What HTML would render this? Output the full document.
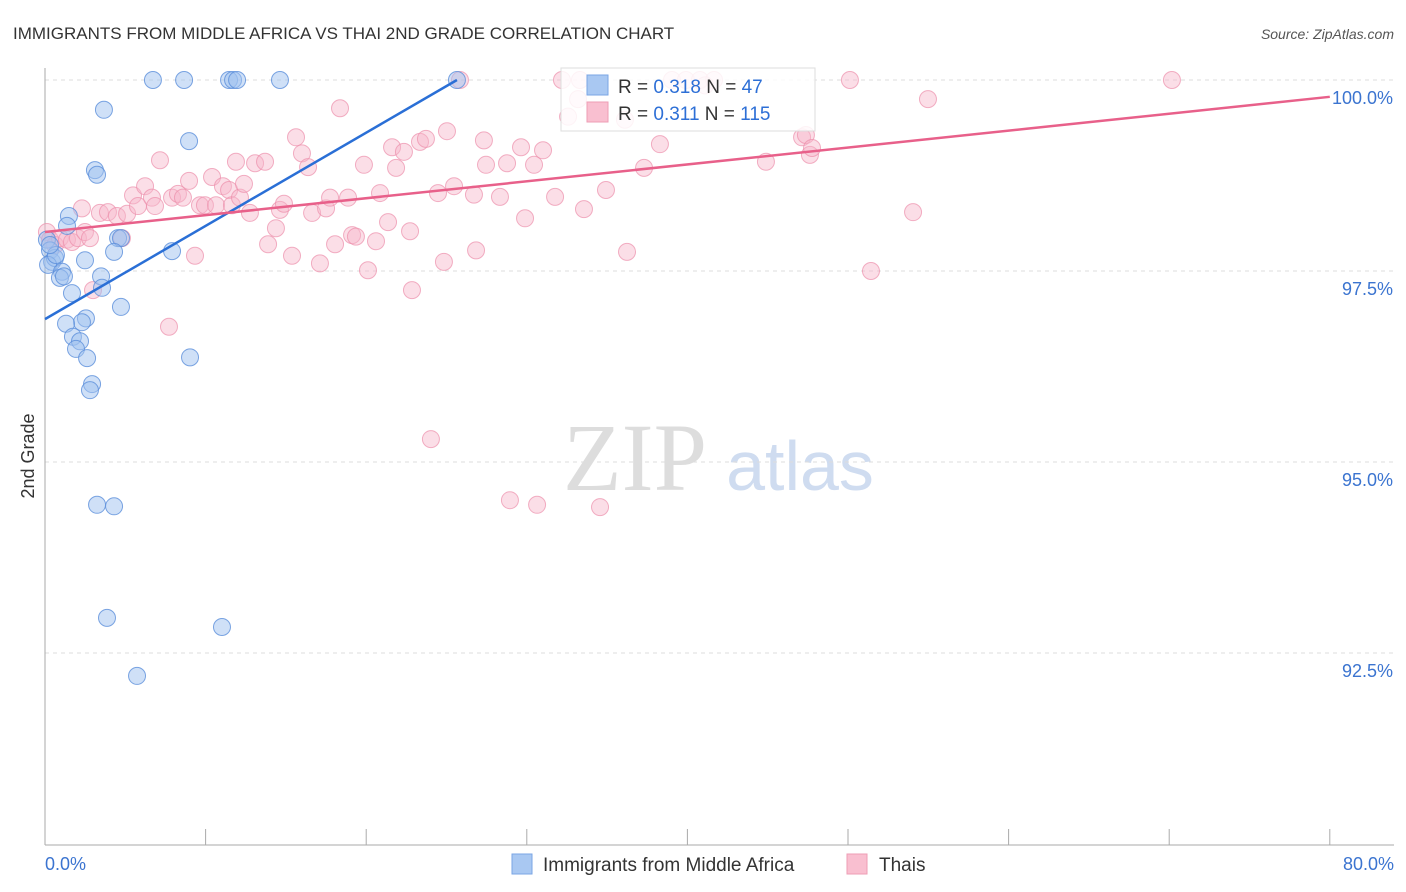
<!DOCTYPE html>
<html><head><meta charset="utf-8"><style>
body{margin:0;background:#fff;font-family:"Liberation Sans",sans-serif}
svg{display:block}
</style></head><body>
<svg id="c" width="1406" height="892" xmlns="http://www.w3.org/2000/svg">
<text x="13" y="39" font-size="17" fill="#333">IMMIGRANTS FROM MIDDLE AFRICA VS THAI 2ND GRADE CORRELATION CHART</text>
<text x="1394" y="39" font-size="14" fill="#555" font-style="italic" text-anchor="end">Source: ZipAtlas.com</text>
<text x="635" y="490" font-size="96" fill="#ddd" font-family="Liberation Serif,serif" text-anchor="middle">ZIP</text>
<text x="800" y="490" font-size="70" fill="#cfdcf0" text-anchor="middle">atlas</text>
<g id="grid"></g><g id="axes"></g><g id="pts"></g><g id="lines"></g>
<text transform="translate(34,456) rotate(-90)" font-size="18" fill="#333" text-anchor="middle">2nd Grade</text>
<g>
<rect x="561" y="68" width="254" height="63" fill="#fff" fill-opacity="0.85" stroke="#ddd"/>
<rect x="587" y="75" width="21" height="20" fill="#a9c8f2" stroke="#7aa6e4"/>
<rect x="587" y="102" width="21" height="20" fill="#f9bfd0" stroke="#ee9db5"/>
<text x="618" y="93" font-size="19" fill="#333">R = <tspan fill="#2d6fd6">0.318</tspan>   N = <tspan fill="#2d6fd6"> 47</tspan></text>
<text x="618" y="120" font-size="19" fill="#333">R = <tspan fill="#2d6fd6"> 0.311</tspan>   N = <tspan fill="#2d6fd6">115</tspan></text>
</g>
<g>
<rect x="512" y="854" width="20" height="20" fill="#a9c8f2" stroke="#7aa6e4"/>
<text x="543" y="871" font-size="19" fill="#333">Immigrants from Middle Africa</text>
<rect x="847" y="854" width="20" height="20" fill="#f9bfd0" stroke="#ee9db5"/>
<text x="879" y="871" font-size="19" fill="#333">Thais</text>
</g>
</svg>
<script>
const blueX=[6.72,8.66,11.46,11.71,11.96,14.63,25.65,3.67,8.97,3.11,3.24,1.49,1.37,0.12,4.55,4.73,4.30,7.91,2.49,0.31,0.44,0.62,0.19,1.06,0.93,1.18,3.49,3.55,1.68,4.73,2.55,2.30,1.31,1.74,2.18,1.93,2.62,9.03,2.93,2.80,3.24,4.30,3.86,11.02,5.73,0.68,0.31];
const blueY=[100,100,100,100,100,100,100,99.61,99.20,98.82,98.76,98.22,98.09,97.91,97.93,97.93,97.75,97.76,97.64,97.77,97.62,97.67,97.58,97.49,97.41,97.43,97.43,97.28,97.21,97.03,96.88,96.83,96.81,96.64,96.58,96.48,96.36,96.37,96.02,95.94,94.44,94.42,92.96,92.84,92.20,97.71,97.84];
const pinkX=[0.12,0.31,0.62,0.93,1.37,1.68,2.05,2.49,2.30,2.80,2.99,3.42,3.92,4.48,5.11,4.79,5.48,5.79,6.23,6.66,6.85,7.16,7.72,7.91,8.28,8.59,8.97,9.34,9.65,9.96,10.40,10.65,11.08,11.46,11.64,11.89,12.14,12.39,12.76,13.08,13.70,13.89,14.38,14.63,14.88,15.38,15.63,16.00,16.38,16.63,17.12,17.50,17.75,18.06,18.37,18.87,19.12,19.36,19.86,20.11,20.61,20.86,21.36,21.61,21.86,22.35,22.73,22.85,23.35,23.72,24.03,24.47,24.84,25.03,25.47,26.84,26.71,27.33,27.46,28.33,28.77,28.95,29.64,29.89,30.45,30.64,31.01,31.76,32.19,33.19,33.56,34.56,34.93,36.24,37.30,38.29,39.04,39.91,40.78,41.66,44.89,47.14,47.38,47.63,47.76,50.12,51.43,54.05,54.98,70.17,25.84,33.31,32.57,36.11,41.10];
const pinkY=[98.01,97.91,97.84,97.93,97.91,97.88,97.93,98.01,98.32,97.93,97.25,98.26,98.27,98.22,98.25,97.93,98.49,98.35,98.61,98.46,98.35,98.95,96.77,98.46,98.51,98.46,98.68,97.70,98.36,98.36,98.73,98.36,98.61,98.56,98.36,98.93,98.46,98.64,98.26,98.91,98.93,97.85,98.06,98.30,98.38,97.70,99.25,99.04,98.86,98.26,97.60,98.32,98.46,97.85,99.63,98.46,97.97,97.95,98.89,97.51,97.89,98.52,98.14,99.12,98.85,99.06,98.02,97.25,99.19,99.23,95.30,98.52,97.62,99.33,98.61,97.77,98.50,99.21,98.89,98.47,98.91,94.50,99.12,98.19,98.89,94.44,99.08,98.47,100,99.75,98.31,94.41,98.56,97.75,98.85,99.16,100,100,100,100,98.93,99.25,99.28,99.02,99.11,100,97.50,98.27,99.75,100,100,100,99.52,99.48,99.93];
const blueTrend=[0,96.87,25.65,100];
const pinkTrend=[0,98.01,80,99.78];
const yTicks=[100,97.5,95,92.5];
const yTickLabels=["100.0%","97.5%","95.0%","92.5%"];
const xTickVals=[0,10,20,30,40,50,60,70,80];
const NS="http://www.w3.org/2000/svg";
const X=v=>45+v*16.06, Y=v=>80+(100-v)*76.4;
function mk(t,a,p){const e=document.createElementNS(NS,t);for(const k in a)e.setAttribute(k,a[k]);p.appendChild(e);return e;}
const grid=document.getElementById('grid'),axes=document.getElementById('axes'),pts=document.getElementById('pts'),lines=document.getElementById('lines');
yTicks.forEach((v,i)=>{
 const l=mk('line',{x1:45,x2:1394,y1:Y(v),y2:Y(v),stroke:'#ddd','stroke-dasharray':'4,4'},grid);
 
 
 const t=mk('text',{x:1393,y:Y(v)+24,'font-size':18,fill:'#3b74d0','text-anchor':'end'},axes);
 t.textContent=yTickLabels[i];
 
 
});
const ya=mk('line',{x1:45,x2:45,y1:68,y2:845,stroke:'#aaa'},axes);


const xa=mk('line',{x1:45,x2:1394,y1:845,y2:845,stroke:'#aaa'},axes);


xTickVals.forEach(v=>{
 const t=mk('line',{x1:X(v),x2:X(v),y1:829,y2:845,stroke:'#aaa'},axes);
 
 
});
const xl0=mk('text',{x:45,y:870,'font-size':18,fill:'#3b74d0'},axes);xl0.textContent='0.0%';


const xl1=mk('text',{x:1394,y:870,'font-size':18,fill:'#3b74d0','text-anchor':'end'},axes);xl1.textContent='80.0%';


pinkX.forEach((x,i)=>{
 const c=mk('circle',{cx:X(x),cy:Y(pinkY[i]),r:8.5,fill:'#f7b6c9','fill-opacity':0.45,stroke:'#ec8fab','stroke-opacity':0.7},pts);
 
 
});
blueX.forEach((x,i)=>{
 const c=mk('circle',{cx:X(x),cy:Y(blueY[i]),r:8.5,fill:'#9fc1ef','fill-opacity':0.5,stroke:'#5b8fdb','stroke-opacity':0.8},pts);
 
 
});
const bl=mk('line',{x1:X(blueTrend[0]),y1:Y(blueTrend[1]),x2:X(blueTrend[2]),y2:Y(blueTrend[3]),stroke:'#2a6fd6','stroke-width':2.5},lines);


const pl=mk('line',{x1:X(pinkTrend[0]),y1:Y(pinkTrend[1]),x2:X(pinkTrend[2]),y2:Y(pinkTrend[3]),stroke:'#e8608a','stroke-width':2.5},lines);


</script>
</body></html>
